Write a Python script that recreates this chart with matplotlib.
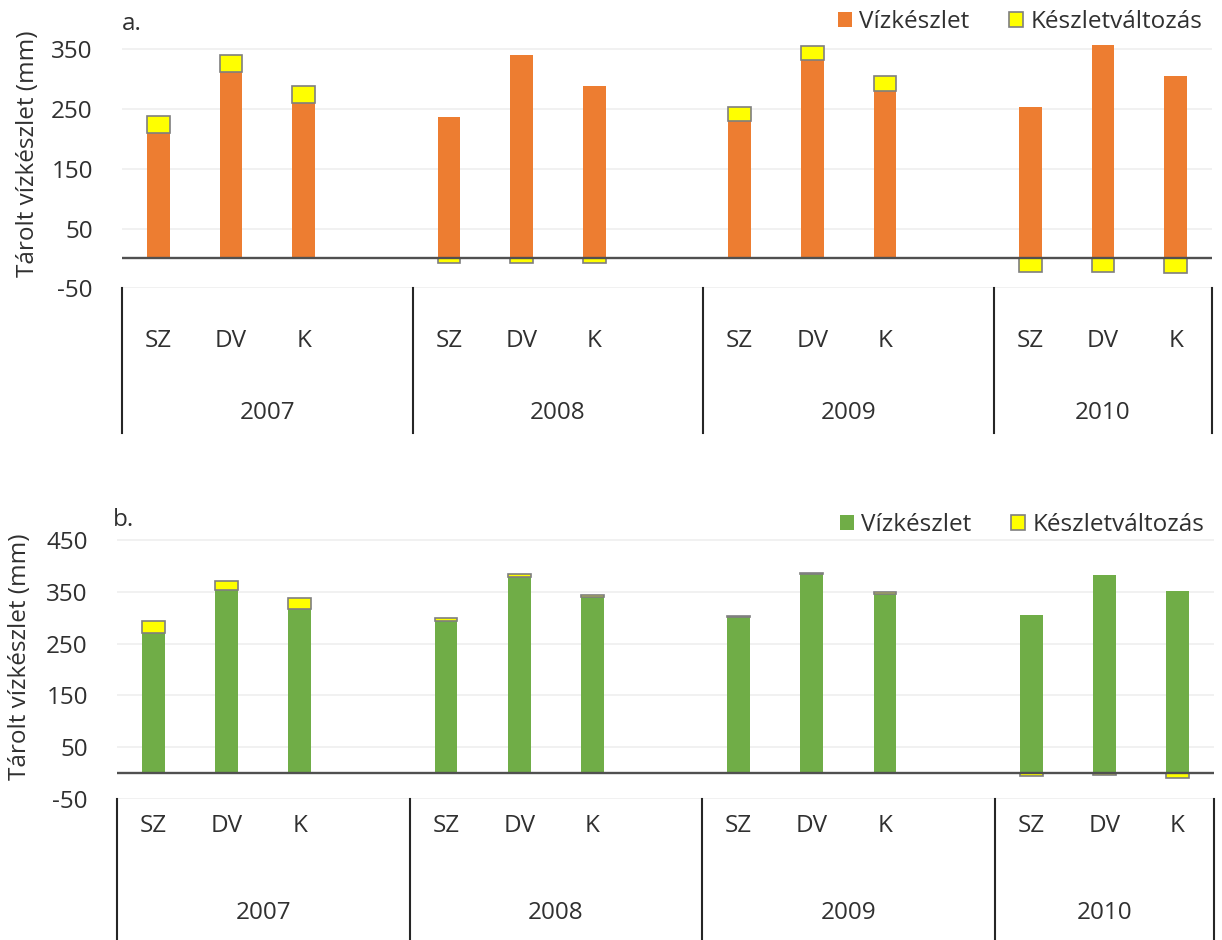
import matplotlib
matplotlib.use("Agg")
import matplotlib.pyplot as plt
import numpy as np

plt.rcParams["font.family"] = ["Open Sans", "DejaVu Sans"]
plt.rcParams["axes.unicode_minus"] = False

# ----------------------------------------------------------
# adatok
# ----------------------------------------------------------
years = ["2007", "2008", "2009", "2010"]
sites = ["SZ", "DV", "K"]

# a. panel (mm)
storage_a = [210, 313, 260, 237, 340, 289, 231, 333, 281, 253, 357, 306]
change_a = [28, 28, 28, -7, -7, -7, 22, 22, 24, -23, -22, -25]

# b. panel (mm)
storage_b = [271, 354, 316, 294, 378, 340, 301, 384, 346, 305, 383, 351]
change_b = [23, 18, 23, 5, 6, 4, 2, 2, 4, -7, -4, -11]

ORANGE = "#ED7D31"
GREEN = "#70AD47"
YELLOW = "#FFFF00"
TXT = "#303030"
FS = 17.5

# minden évhez 4 hely (az utolsó üres), 2010-hez csak 3
pos = np.array([yi * 4 + si for yi in range(len(years)) for si in range(len(sites))])
sep = [-0.5, 3.5, 7.5, 11.5, 14.5]
year_centers = [(sep[i] + sep[i + 1]) / 2 for i in range(len(years))]


def panel(ax, storage, change, color, ylim, letter, lab_y, yr_y, line_y,
          letter_pos, leg_y, ylabel_x):
    storage = np.array(storage, dtype=float)
    change = np.array(change, dtype=float)
    bottom = np.where(change > 0, storage, 0)

    b1 = ax.bar(pos, storage, width=0.31, color=color, zorder=2, label="Vízkészlet")
    b2 = ax.bar(pos, change, bottom=bottom, width=0.31, color=YELLOW,
                edgecolor="#7F7F7F", linewidth=1.2, zorder=3, label="Készletváltozás")

    ax.set_xlim(-0.5, 14.5)
    ax.set_ylim(*ylim)
    ax.set_yticks(np.arange(ylim[0], ylim[1], 100))
    ax.tick_params(axis="y", length=0, pad=21, labelsize=FS, colors=TXT)
    ax.set_xticks([])
    for s in ax.spines.values():
        s.set_visible(False)
    ax.grid(axis="y", color="#EFEFEF", linewidth=1.2, zorder=0)
    ax.axhline(0, color="#505050", linewidth=1.7, zorder=4)

    ax.set_ylabel("Tárolt vízkészlet (mm)", fontsize=FS, color=TXT)
    ax.yaxis.set_label_coords(ylabel_x, 0.5)

    # kategória tengely
    tr = ax.get_xaxis_transform()
    for x in sep:
        ax.plot([x, x], [0, line_y], transform=tr, color="#262626",
                linewidth=1.5, clip_on=False)
    for i, p in enumerate(pos):
        ax.text(p, lab_y, sites[i % 3], transform=tr, ha="center", va="center",
                fontsize=FS, color=TXT)
    for xc, yr in zip(year_centers, years):
        ax.text(xc, yr_y, yr, transform=tr, ha="center", va="center",
                fontsize=FS, color=TXT)

    ax.text(letter_pos[0], letter_pos[1], letter, transform=ax.transAxes,
            ha="left", va="center", fontsize=FS, color=TXT)

    ax.legend(handles=[b1, b2], loc="center right", bbox_to_anchor=(1.0, leg_y),
              ncol=2, frameon=False, fontsize=FS, handlelength=0.6,
              handleheight=0.6, handletextpad=0.3, columnspacing=1.6,
              borderaxespad=0, labelcolor=TXT)


fig = plt.figure(figsize=(12.22, 9.40), dpi=100)

ax_a = fig.add_axes([122 / 1222, 1 - 288.3 / 940, 1090 / 1222, 268.7 / 940])
panel(ax_a, storage_a, change_a, ORANGE, (-50, 400), "a.",
      lab_y=-0.196, yr_y=-0.464, line_y=-0.538,
      letter_pos=(0.0, 0.984), leg_y=0.99, ylabel_x=-0.075)

ax_b = fig.add_axes([117 / 1222, 1 - 798.5 / 940, 1097 / 1222, 284.1 / 940])
panel(ax_b, storage_b, change_b, GREEN, (-50, 500), "b.",
      lab_y=-0.097, yr_y=-0.403, line_y=-0.498,
      letter_pos=(-0.004, 0.98), leg_y=0.962, ylabel_x=-0.0775)

fig.savefig("out.png", dpi=100)
